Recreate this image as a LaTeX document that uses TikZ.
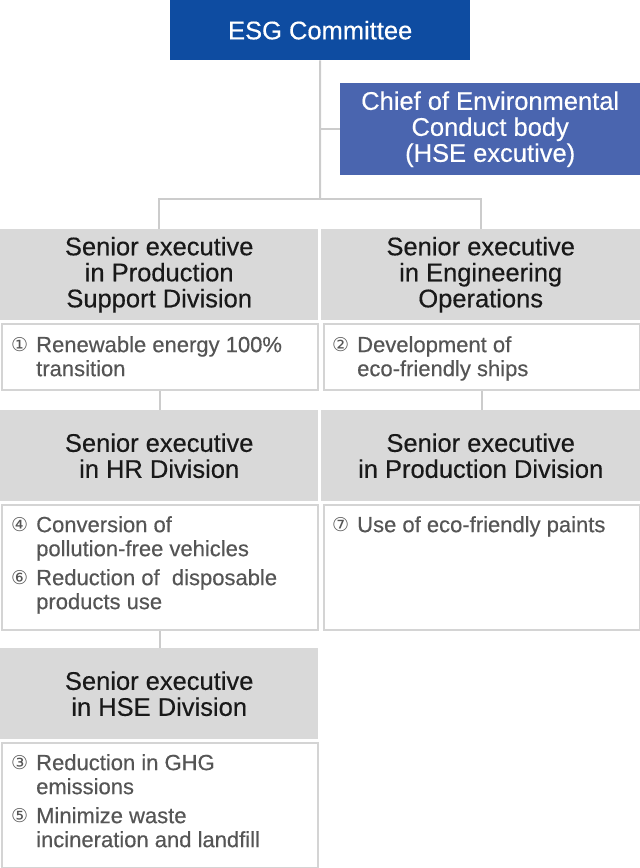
\documentclass[tikz,border=0pt]{standalone}
\usepackage{fontspec}
\setmainfont{Liberation Sans}
\newfontfamily\circfont{DejaVu Sans}
\newfontfamily\medfont[FakeBold=0.4]{Liberation Sans}
\definecolor{esgblue}{HTML}{0E4CA1}
\definecolor{chiefblue}{HTML}{4A65AF}
\definecolor{headgray}{HTML}{D9D9D9}
\definecolor{linegray}{HTML}{CCCCCC}
\definecolor{boxline}{HTML}{D4D4D4}
\definecolor{itemtext}{HTML}{555555}
\newcommand{\cnum}[1]{\makebox[25pt][l]{\raisebox{0.5pt}{\circfont\fontsize{19}{19}\selectfont #1}}}
\newcommand{\ind}{\hspace*{25pt}}
\tikzset{
  bluebox/.style={anchor=north west, inner sep=0pt, text=white, align=center,
    font=\medfont\fontsize{25.5}{26}\selectfont},
  headbox/.style={anchor=north west, inner sep=0pt, fill=headgray, text=black!90, align=center,
    minimum width=318pt, minimum height=91pt, font=\medfont\fontsize{25.5}{26}\selectfont},
  itembox/.style={anchor=north west, inner sep=0pt, draw=boxline, line width=2pt, fill=white,
    minimum width=316pt},
  itemtext/.style={anchor=north west, inner sep=0pt, text=itemtext, align=left,
    font=\medfont\fontsize{22}{24}\selectfont},
  conn/.style={draw=linegray, line width=2pt}
}
\begin{document}
\begin{tikzpicture}[x=1pt,y=-1pt]
\useasboundingbox (0,0) rectangle (640,868);
% top boxes
\node[bluebox, fill=esgblue, minimum width=300pt, minimum height=60pt] (esg) at (170,0) {ESG Committee};
\node[bluebox, fill=chiefblue, minimum width=300pt, minimum height=92pt] (chief) at (340,83)
  {Chief of Environmental\\Conduct body\\(HSE excutive)};
\coordinate (bus) at (320,199);
% headers row 1
\node[headbox] (h1) at (0,229) {Senior executive\\in Production\\Support Division};
\node[headbox, minimum width=319pt] (h2) at (321,229) {Senior executive\\in Engineering\\Operations};
% item boxes row 1
\node[itembox, minimum height=66pt] (b1) at (1,323) {};
\node[itembox, minimum height=66pt] (b2) at (323,323) {};
\node[itemtext] (t1) at (11,336) {\cnum{①}Renewable energy 100\%\\\ind transition};
\node[itemtext] (t2) at (332,336) {\cnum{②}Development of\\\ind eco-friendly ships};
% headers row 2
\node[headbox] (h3) at (0,410) {Senior executive\\in HR Division};
\node[headbox, minimum width=319pt] (h4) at (321,410) {Senior executive\\in Production Division};
% item boxes row 2
\node[itembox, minimum height=125pt] (b3) at (1,504) {};
\node[itembox, minimum height=125pt] (b4) at (323,504) {};
\node[itemtext] (t3) at (11,516) {\cnum{④}Conversion of\\\ind pollution-free vehicles\\[5pt]\cnum{⑥}Reduction of~ disposable\\\ind products use};
\node[itemtext] (t4) at (332,516) {\cnum{⑦}Use of eco-friendly paints};
% header row 3
\node[headbox] (h5) at (0,648) {Senior executive\\in HSE Division};
\node[itembox, minimum height=125pt] (b5) at (1,742) {};
\node[itemtext] (t5) at (11,754) {\cnum{③}Reduction in GHG\\\ind emissions\\[5pt]\cnum{⑤}Minimize waste\\\ind incineration and landfill};
% connectors
\draw[conn] (esg.south) -- (bus);
\draw[conn] (esg.south |- chief.west) -- (chief.west);
\draw[conn] (h1.north) -- (h1.north |- bus) -- (h2.north |- bus) -- (h2.north);
\draw[conn] (b1.south) -- (b1.south |- h3.north);
\draw[conn] (b2.south) -- (b2.south |- h4.north);
\draw[conn] (b3.south) -- (b3.south |- h5.north);
\end{tikzpicture}
\end{document}
